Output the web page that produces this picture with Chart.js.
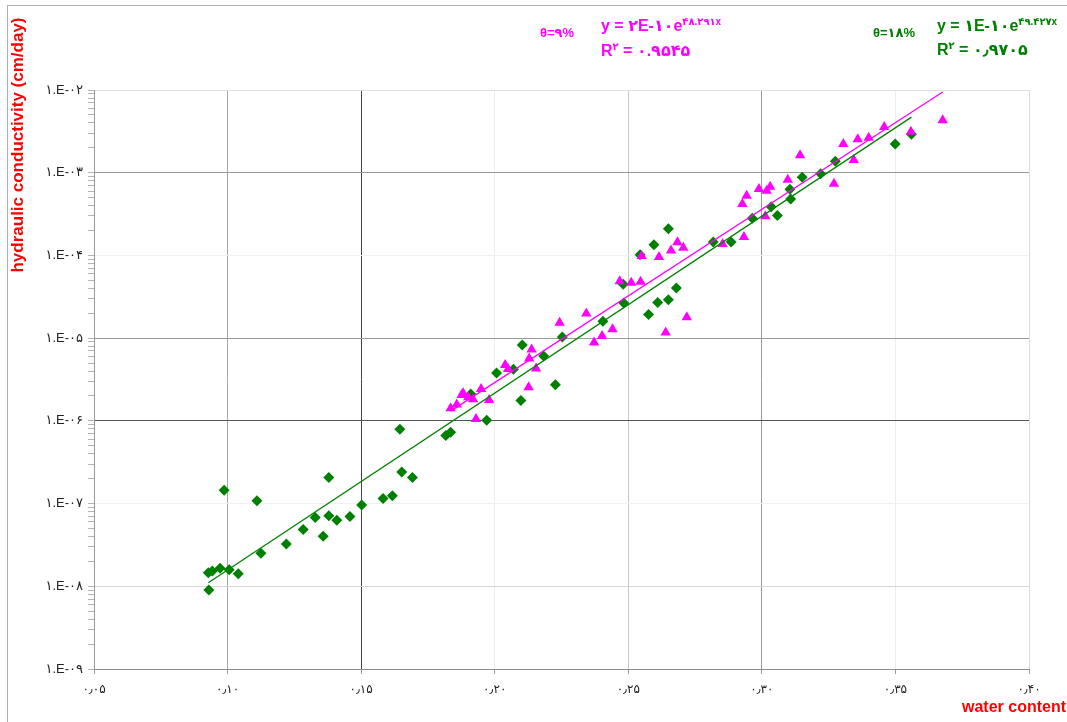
<!DOCTYPE html>
<html lang="en">
<head>
    <meta charset="UTF-8">
    <title>Hydraulic conductivity vs water content</title>
    <script src="https://cdn.jsdelivr.net/npm/chart.js"></script>
    <style>
        body {
            margin: 0;
            background: #fff;
            font-family: 'Liberation Sans', Arial, 'DejaVu Sans', sans-serif;
        }
        .wrap {
            position: relative;
            width: 1067px;
            height: 722px;
            overflow: hidden;
        }
        .frame {
            position: absolute;
            left: 7px;
            top: 5px;
            width: 1080px;
            height: 740px;
            border: 1px solid #b0b0b0;
        }
        .ytitle {
            position: absolute;
            left: 18px;
            top: 145px;
            transform: translate(-50%, -50%) rotate(-90deg);
            white-space: nowrap;
            color: #f00;
            font-weight: bold;
            font-size: 17px;
        }
        .xtitle {
            position: absolute;
            right: 1px;
            top: 698px;
            color: #f00;
            font-weight: bold;
            font-size: 16px;
            white-space: nowrap;
        }
        .eq {
            position: absolute;
            font-weight: bold;
            white-space: nowrap;
            direction: ltr;
        }
        .eq sup { font-size: 10px; }
        .mag { color: #ff00ff; }
        .grn { color: #008000; }
        .theta { font-size: 13px; }
        .big { font-size: 16px; line-height: 18px; }
    </style>
</head>
<body>
<div class="wrap">
    <div class="frame"></div>
    <canvas id="kChart"></canvas>

    <div class="ytitle">hydraulic conductivity (cm/day)</div>
    <div class="xtitle">water content</div>

    <!-- trendline labels -->
    <div class="eq mag theta" style="left:540px; top:25px;">θ=۹%</div>
    <div class="eq mag big" style="left:601px; top:13px;">y = ۲E-۱۰e<sup>۴۸.۲۹۱x</sup></div>
    <div class="eq mag big" style="left:601px; top:38px;">R<sup>۲</sup> = ۰.۹۵۴۵</div>

    <div class="eq grn theta" style="left:873px; top:25px;">θ=۱۸%</div>
    <div class="eq grn big" style="left:937px; top:13px;">y = ۱E-۱۰e<sup>۴۹.۴۲۷x</sup></div>
    <div class="eq grn big" style="left:937px; top:37px;">R<sup>۲</sup> = ۰٫۹۷۰۵</div>
</div>

<script>
    // theta = 18% (green diamonds)
    const wc18 = [0.0930, 0.0928, 0.0943, 0.0972, 0.1006, 0.1040, 0.0987, 0.1110, 0.1125, 0.1220,
                  0.1283, 0.1328, 0.1358, 0.1379, 0.1379, 0.1409, 0.1458, 0.1502, 0.1582, 0.1617,
                  0.1645, 0.1652, 0.1692, 0.1817, 0.1835, 0.1910, 0.1970, 0.2007, 0.2070, 0.2103,
                  0.2098, 0.2183, 0.2227, 0.2253, 0.2405, 0.2483, 0.2481, 0.2576, 0.2610, 0.2650,
                  0.2680, 0.2544, 0.2596, 0.2650, 0.2818, 0.2885, 0.2964, 0.3058, 0.3035, 0.3105,
                  0.3108, 0.3151, 0.3220, 0.3275, 0.3499, 0.3560];
    const k18 = [9.0e-9, 1.46e-8, 1.53e-8, 1.65e-8, 1.59e-8, 1.42e-8, 1.45e-7, 1.08e-7, 2.5e-8, 3.24e-8,
                 4.87e-8, 6.78e-8, 4.04e-8, 2.07e-7, 7.1e-8, 6.3e-8, 7.0e-8, 9.6e-8, 1.15e-7, 1.24e-7,
                 7.94e-7, 2.41e-7, 2.07e-7, 6.65e-7, 7.3e-7, 2.11e-6, 1.02e-6, 3.78e-6, 4.2e-6, 8.24e-6,
                 1.76e-6, 6.07e-6, 2.74e-6, 1.03e-5, 1.6e-5, 2.66e-5, 4.48e-5, 1.93e-5, 2.69e-5, 2.92e-5,
                 4.04e-5, 1.02e-4, 1.35e-4, 2.1e-4, 1.45e-4, 1.45e-4, 2.81e-4, 3.03e-4, 3.89e-4, 6.3e-4,
                 4.8e-4, 8.8e-4, 9.7e-4, 1.38e-3, 2.22e-3, 2.92e-3];

    // theta = 9% (magenta triangles)
    const wc9 = [0.1835, 0.1858, 0.1876, 0.1882, 0.1901, 0.1919, 0.1949, 0.1979, 0.1930, 0.2039,
                 0.2050, 0.2138, 0.2129, 0.2155, 0.2127, 0.2243, 0.2343, 0.2372, 0.2402, 0.2441,
                 0.2468, 0.2511, 0.2546, 0.2550, 0.2615, 0.2660, 0.2684, 0.2706, 0.2640, 0.2719,
                 0.2853, 0.2933, 0.3013, 0.2927, 0.2943, 0.2989, 0.3018, 0.3031, 0.3097, 0.3143,
                 0.3270, 0.3305, 0.3344, 0.3359, 0.3400, 0.3458, 0.3558, 0.3677];
    const k9 = [1.42e-6, 1.58e-6, 2.06e-6, 2.16e-6, 1.93e-6, 1.82e-6, 2.43e-6, 1.79e-6, 1.05e-6, 4.73e-6,
                4.25e-6, 7.31e-6, 5.69e-6, 4.29e-6, 2.55e-6, 1.53e-5, 1.99e-5, 8.83e-6, 1.06e-5, 1.28e-5,
                4.89e-5, 4.67e-5, 4.81e-5, 9.86e-5, 9.55e-5, 1.15e-4, 1.44e-4, 1.24e-4, 1.17e-5, 1.79e-5,
                1.37e-4, 1.67e-4, 2.97e-4, 4.2e-4, 5.28e-4, 6.37e-4, 6.07e-4, 6.78e-4, 8.23e-4, 1.63e-3,
                7.37e-4, 2.22e-3, 1.42e-3, 2.54e-3, 2.64e-3, 3.56e-3, 3.12e-3, 4.31e-3];

    const xTicks = [0.05, 0.10, 0.15, 0.20, 0.25, 0.30, 0.35, 0.40];
    const yDecades = [-9, -8, -7, -6, -5, -4, -3, -2];

    const MAGENTA = '#ff00ff';
    const GREEN = '#008000';

    const fa = s => s.replace(/[0-9]/g, d => '۰۱۲۳۴۵۶۷۸۹'[d]);

    // exponential trendline (least squares on ln K), like Excel does
    function expTrend(xs, ys) {
        const n = xs.length;
        let sx = 0, sy = 0, sxx = 0, sxy = 0;
        for (let i = 0; i < n; i++) {
            const ly = Math.log(ys[i]);
            sx += xs[i]; sy += ly; sxx += xs[i] * xs[i]; sxy += xs[i] * ly;
        }
        const b = (n * sxy - sx * sy) / (n * sxx - sx * sx);
        const a = Math.exp((sy - b * sx) / n);
        const x0 = Math.min(...xs), x1 = Math.max(...xs);
        return [{x: x0, y: a * Math.exp(b * x0)}, {x: x1, y: a * Math.exp(b * x1)}];
    }

    const pts = (xs, ys) => xs.map((x, i) => ({x: x, y: ys[i]}));

    const isDecade = v => Math.abs(Math.log10(v) - Math.round(Math.log10(v))) < 1e-6;

    const xGridColor = {5: 'rgba(0,0,0,0)', 10: '#a8a8a8', 15: '#444', 20: '#ececec',
                        25: '#c8c8c8', 30: '#999', 35: '#ececec', 40: '#dcdcdc'};
    const yGridColor = {'-9': 'rgba(0,0,0,0)', '-8': '#d6d6d6', '-7': '#f0f0f0', '-6': '#555',
                        '-5': '#999', '-4': '#f0f0f0', '-3': '#999', '-2': '#e0e0e0'};

    const fontFam = "'Liberation Sans', Arial, 'DejaVu Sans', sans-serif";

    new Chart(document.getElementById('kChart'), {
        type: 'scatter',
        data: {
            datasets: [
                {
                    label: 'trend 9%',
                    data: expTrend(wc9, k9),
                    showLine: true,
                    borderColor: MAGENTA,
                    borderWidth: 1.3,
                    pointRadius: 0,
                    order: 0
                },
                {
                    label: 'trend 18%',
                    data: expTrend(wc18, k18),
                    showLine: true,
                    borderColor: GREEN,
                    borderWidth: 1.3,
                    pointRadius: 0,
                    order: 0
                },
                {
                    label: 'θ=9%',
                    data: pts(wc9, k9),
                    pointStyle: 'triangle',
                    pointRadius: 6,
                    backgroundColor: MAGENTA,
                    borderColor: MAGENTA,
                    borderWidth: 0,
                    order: 1
                },
                {
                    label: 'θ=18%',
                    data: pts(wc18, k18),
                    pointStyle: 'rectRot',
                    pointRadius: 5.5,
                    backgroundColor: GREEN,
                    borderColor: GREEN,
                    borderWidth: 0,
                    order: 2
                }
            ]
        },
        options: {
            responsive: true,
            maintainAspectRatio: false,
            animation: false,
            layout: {padding: {left: 0, right: 38, top: 90, bottom: 0}},
            plugins: {
                legend: {display: false},
                tooltip: {enabled: false}
            },
            scales: {
                x: {
                    type: 'linear',
                    min: xTicks[0],
                    max: xTicks[xTicks.length - 1],
                    afterBuildTicks: s => { s.ticks = xTicks.map(v => ({value: v})); },
                    afterFit: s => { s.height = 53; },
                    border: {color: '#8c8c8c', width: 1},
                    grid: {
                        color: c => c.tick ? (xGridColor[Math.round(c.tick.value * 100)] || '#ddd') : '#ddd',
                        tickColor: '#9a9a9a',
                        tickLength: 5
                    },
                    ticks: {
                        color: '#222',
                        font: {family: fontFam, size: 12},
                        padding: 8,
                        maxRotation: 0,
                        autoSkip: false,
                        callback: v => fa(Number(v).toFixed(2).replace('.', '٫'))
                    }
                },
                y: {
                    type: 'logarithmic',
                    min: Math.pow(10, yDecades[0]),
                    max: Math.pow(10, yDecades[yDecades.length - 1]),
                    afterBuildTicks: s => {
                        const t = [];
                        yDecades.forEach((e, i) => {
                            const top = i === yDecades.length - 1 ? 1 : 9;
                            for (let m = 1; m <= top; m++) t.push({value: m * Math.pow(10, e)});
                        });
                        s.ticks = t;
                    },
                    afterFit: s => { s.width = 94; },
                    border: {color: '#9a9a9a', width: 1},
                    grid: {
                        color: c => {
                            if (!c.tick || !isDecade(c.tick.value)) return 'rgba(0,0,0,0)';
                            return yGridColor[String(Math.round(Math.log10(c.tick.value)))] || '#ddd';
                        },
                        tickColor: '#b4b4b4',
                        tickLength: 6
                    },
                    ticks: {
                        color: '#222',
                        font: {family: fontFam, size: 13},
                        padding: 5,
                        autoSkip: false,
                        callback: v => {
                            if (!isDecade(v)) return '';
                            const e = -Math.round(Math.log10(v));
                            return fa('1.E-' + String(e).padStart(2, '0'));
                        }
                    }
                }
            }
        }
    });
</script>
</body>
</html>
